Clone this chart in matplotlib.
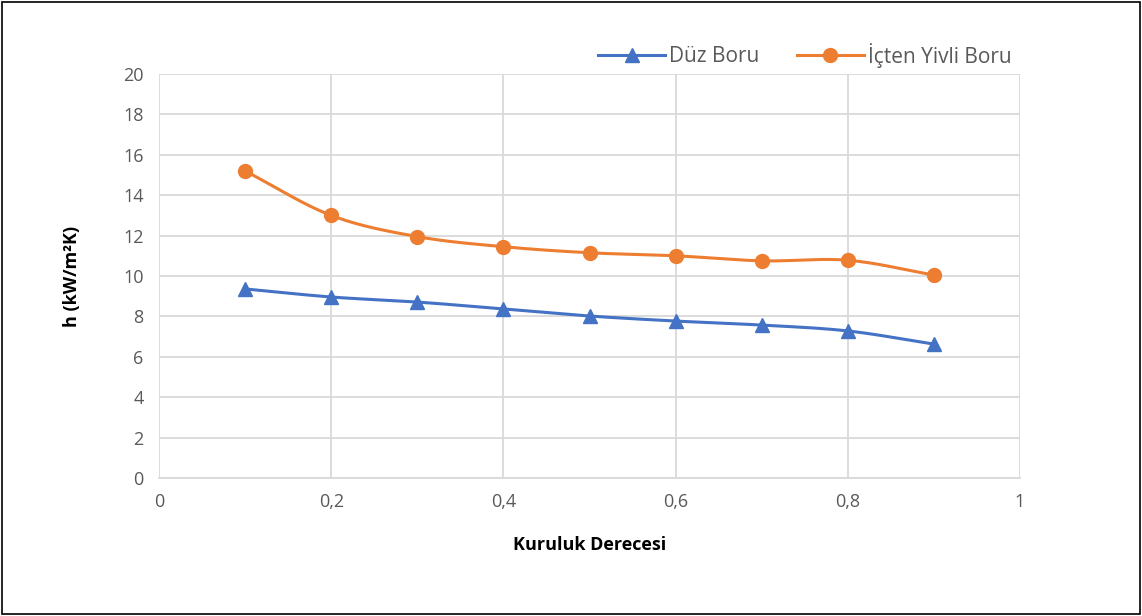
import matplotlib.pyplot as plt
import numpy as np
from matplotlib.patches import Rectangle

kuruluk = [0.1, 0.2, 0.3, 0.4, 0.5, 0.6, 0.7, 0.8, 0.9]
duz_boru = [9.36, 8.96, 8.71, 8.37, 8.02, 7.77, 7.57, 7.28, 6.63]
yivli_boru = [15.2, 13.0, 11.95, 11.45, 11.15, 11.0, 10.75, 10.78, 10.05]

mavi = '#4472c4'
turuncu = '#ed7d31'
gri = '#595959'

plt.rcParams['font.family'] = ['Open Sans', 'DejaVu Sans']


def yumusat(x, y, n=30):
    # excel tarzi egri (catmull-rom)
    x = np.asarray(x, float)
    y = np.asarray(y, float)
    px = np.concatenate([[2 * x[0] - x[1]], x, [2 * x[-1] - x[-2]]])
    py = np.concatenate([[2 * y[0] - y[1]], y, [2 * y[-1] - y[-2]]])
    xs, ys = [], []
    t = np.linspace(0, 1, n)
    for i in range(1, len(px) - 2):
        for p, out in ((px, xs), (py, ys)):
            p0, p1, p2, p3 = p[i - 1], p[i], p[i + 1], p[i + 2]
            out.extend(0.5 * (2 * p1 + (-p0 + p2) * t
                              + (2 * p0 - 5 * p1 + 4 * p2 - p3) * t ** 2
                              + (-p0 + 3 * p1 - 3 * p2 + p3) * t ** 3))
    return xs, ys


fig = plt.figure(figsize=(11.42, 6.16), dpi=100)
ax = fig.add_axes([159 / 1142, 1 - 478 / 616, (1020 - 159) / 1142, (478 - 74) / 616])

sx, sy = yumusat(kuruluk, duz_boru)
ax.plot(sx, sy, color=mavi, lw=2.2, zorder=3)
ax.plot(kuruluk, duz_boru, ls='none', marker='^', ms=10, color=mavi, zorder=4)
sx, sy = yumusat(kuruluk, yivli_boru)
ax.plot(sx, sy, color=turuncu, lw=2.2, zorder=3)
ax.plot(kuruluk, yivli_boru, ls='none', marker='o', ms=10, color=turuncu, zorder=4)

ax.set_xlim(0, 1)
ax.set_ylim(0, 20)
ax.set_xticks(np.arange(0, 1.01, 0.2))
ax.set_xticklabels(['0', '0,2', '0,4', '0,6', '0,8', '1'])
ax.set_yticks(range(0, 21, 2))
ax.grid(True, color='#d9d9d9', lw=1.3)
ax.set_axisbelow(True)
for s in ['top', 'right', 'left']:
    ax.spines[s].set_visible(False)
ax.spines['bottom'].set_color('#d9d9d9')
ax.spines['bottom'].set_linewidth(1.3)
ax.tick_params(length=0, labelsize=13, colors=gri, pad=11)

ax.set_xlabel('Kuruluk Derecesi', fontsize=13, fontweight='bold', labelpad=18)
ax.set_ylabel('h (kW/m²K)', fontsize=13, fontweight='bold', labelpad=30)

h1 = plt.Line2D([], [], color=mavi, lw=2.2, marker='^', ms=10)
h2 = plt.Line2D([], [], color=turuncu, lw=2.2, marker='o', ms=10)
leg = fig.legend([h1, h2], ['Düz Boru', 'İçten Yivli Boru'], ncol=2, frameon=False,
                 loc='center', bbox_to_anchor=(805 / 1142, 1 - 55 / 616),
                 fontsize=15, handlelength=3.2, columnspacing=1.8, handletextpad=0.2)
for t in leg.get_texts():
    t.set_color(gri)

fig.patches.append(Rectangle((0.002, 0.003), 0.996, 0.994, transform=fig.transFigure,
                             fill=False, edgecolor='black', lw=1.2))

fig.savefig('out.png', dpi=100)
